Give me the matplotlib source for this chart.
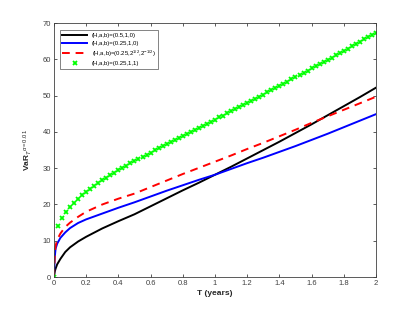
import matplotlib
matplotlib.use("Agg")
import matplotlib.pyplot as plt
import numpy as np

# Curvas (T en años, VaR en unidades del eje)
t_lin = [0, 0.005, 0.01, 0.02, 0.04, 0.07, 0.1, 0.15, 0.2, 0.3, 0.4, 0.5, 0.6, 0.7,
         0.8, 0.9, 1.0, 1.1, 1.2, 1.3, 1.4, 1.5, 1.6, 1.7, 1.8, 1.9, 2.0]
var_h05 = [0, 1.5, 2.3, 3.5, 5.0, 6.9, 8.2, 9.8, 11.1, 13.4, 15.4, 17.3, 19.5, 21.7,
           23.9, 26.0, 28.2, 30.4, 32.7, 35.0, 37.3, 39.7, 42.1, 44.6, 47.1, 49.6, 52.2]
var_h025 = [0, 5.5, 7.8, 9.2, 10.8, 12.3, 13.5, 14.9, 15.9, 17.5, 19.1, 20.6, 22.2, 23.8,
            25.3, 26.8, 28.2, 29.8, 31.4, 32.9, 34.5, 36.1, 37.8, 39.5, 41.3, 43.1, 44.9]
var_h025_sqrt = [0, 6.0, 8.5, 10.3, 12.0, 13.8, 15.0, 16.6, 18.0, 20.0, 21.6, 23.0, 24.8,
                 26.6, 28.4, 30.1, 31.8, 33.5, 35.3, 37.0, 38.8, 40.6, 42.5, 44.3, 46.1,
                 47.9, 49.7]

# Serie con marcadores, paso 0.025
t_mark = [i * 0.025 for i in range(81)]
var_h025_b1 = [0, 14.0, 16.2, 17.9, 19.3, 20.5, 21.6, 22.6, 23.5, 24.4, 25.2, 26.0, 26.7,
               27.4, 28.1, 28.8, 29.5, 30.1, 30.7, 31.3, 31.9, 32.5, 33.1, 33.7, 34.3,
               34.9, 35.5, 36.0, 36.6, 37.2, 37.7, 38.3, 38.9, 39.4, 40.0, 40.6, 41.1,
               41.7, 42.3, 42.8, 43.4, 44.0, 44.5, 45.1, 45.7, 46.3, 46.8, 47.4, 48.0,
               48.6, 49.1, 49.7, 50.3, 50.9, 51.5, 52.1, 52.7, 53.3, 53.9, 54.5, 55.1,
               55.7, 56.3, 56.9, 57.5, 58.1, 58.7, 59.3, 59.9, 60.5, 61.1, 61.7, 62.3,
               62.9, 63.6, 64.2, 64.8, 65.5, 66.1, 66.8, 67.4]

etiquetas = ['(H,a,b)=(0.5,1,0)',
             '(H,a,b)=(0.25,1,0)',
             r'(H,a,b)=(0.25,2$^{1/2}$,2$^{-1/2}$)',
             '(H,a,b)=(0.25,1,1)']

plt.rcParams.update({
    'font.family': ['Liberation Sans', 'DejaVu Sans'],
    'mathtext.fontset': 'custom',
    'mathtext.rm': 'Liberation Sans',
    'mathtext.it': 'Liberation Sans:italic',
})

fig = plt.figure(figsize=(4.15, 3.12), dpi=100)
ax = fig.add_axes([0.130, 0.112, 0.776, 0.814])

ax.plot(t_lin, var_h05, color='black', lw=1.4, label=etiquetas[0])
ax.plot(t_lin, var_h025, color='#0000ff', lw=1.4, label=etiquetas[1])
ax.plot(t_lin, var_h025_sqrt, color='#ff0000', lw=1.4, ls=(0, (4, 3)), label=etiquetas[2])
ax.plot(t_mark, var_h025_b1, ls='none', marker='x', ms=3.5, mew=1.3,
        color='#00ff00', label=etiquetas[3])

ax.set_xlim(0, 2)
ax.set_ylim(0, 70)
ax.set_xticks(np.arange(0, 2.01, 0.2))
ax.set_xticklabels(['0', '0.2', '0.4', '0.6', '0.8', '1', '1.2', '1.4', '1.6', '1.8', '2'])
ax.set_yticks(np.arange(0, 71, 10))
ax.tick_params(direction='in', length=2.5, width=0.6, labelsize=5.5, colors='#404040',
               top=True, right=True, pad=2)
for s in ax.spines.values():
    s.set_color('#404040')
    s.set_linewidth(0.6)

ax.set_xlabel('T (years)', fontsize=6, fontweight='bold', color='#262626', labelpad=2)
ax.set_ylabel(r'VaR$_T$$^{\alpha=0.01}$', fontsize=6, fontweight='bold',
              color='#262626', labelpad=6)

leg = ax.legend(loc='upper left', fontsize=4.3, frameon=True, fancybox=False,
                edgecolor='#262626', handlelength=4.2, borderpad=0.45,
                labelspacing=0.45, bbox_to_anchor=(0.008, 0.985))
leg.get_frame().set_linewidth(0.5)

fig.savefig('out.png', dpi=100)
